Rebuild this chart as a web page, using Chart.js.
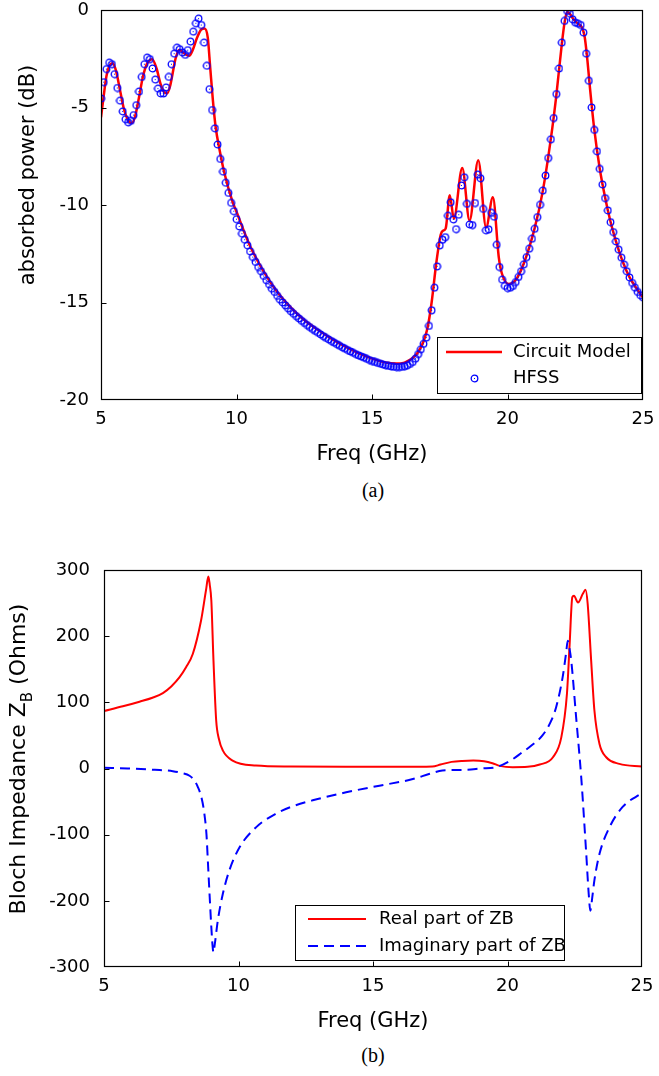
<!DOCTYPE html>
<html>
<head>
<meta charset="utf-8">
<title>Absorbed power and Bloch impedance</title>
<script src="https://cdn.jsdelivr.net/npm/chart.js@4.4.1/dist/chart.umd.min.js"></script>
<style>
  body { margin: 0; background: #fff; }
  #page { position: relative; width: 659px; height: 1076px; overflow: hidden; }
  canvas { position: absolute; left: 0; }
  #absorbChart { top: 0; }
  #blochChart { top: 540px; }
  .caption { position: absolute; left: 323px; width: 100px; text-align: center;
             font: 20px "Liberation Serif", "Times New Roman", serif; color: #000; }
</style>
</head>
<body>
<div id="page">
  <canvas id="absorbChart" width="659" height="470"></canvas>
  <div class="caption" style="top:479px">(a)</div>
  <canvas id="blochChart" width="659" height="500"></canvas>
  <div class="caption" style="top:1044px">(b)</div>
</div>
<script>
// ---- (a) absorbed power ----
const freqTicks = [5, 10, 15, 20, 25];
const dbTicks = [0, -5, -10, -15, -20];

// circuit model curve (GHz, dB)
const modelFreq = [5.0, 5.1, 5.2, 5.3, 5.43, 5.55, 5.7, 5.85, 6.0, 6.13, 6.25, 6.4, 6.55, 6.7, 6.89,
  7.05, 7.2, 7.32, 7.44, 7.55, 7.65, 7.75, 7.88, 8.05, 8.25, 8.4, 8.55, 8.7, 8.82, 8.94,
  9.03, 9.13, 9.23, 9.38, 9.56, 9.84, 10.0, 10.5, 11.0, 11.5, 12.0, 12.5, 13.0, 13.5, 14.0,
  14.5, 15.0, 15.5, 15.9, 16.2, 16.5, 16.7, 16.9, 17.05, 17.2, 17.37, 17.54, 17.65, 17.72, 17.87,
  18.02, 18.33, 18.6, 18.92, 19.21, 19.46, 19.68, 19.79, 20.04, 20.3, 20.6, 21.0, 21.3, 21.6, 21.8,
  22.0, 22.1, 22.2, 22.3, 22.45, 22.6, 22.75, 22.85, 22.95, 23.05, 23.2, 23.4, 23.6, 23.8, 24.0,
  24.25, 24.5, 24.75, 25.0];
const modelDb = [-5.5, -4.4, -3.4, -2.9, -2.73, -3.1, -4.1, -5.1, -5.65, -5.8, -5.5, -4.5, -3.4, -2.75, -2.52,
  -3.0, -3.8, -4.2, -4.28, -3.9, -3.2, -2.5, -2.05, -2.2, -2.35, -2.0, -1.4, -1.0, -0.95, -1.42,
  -2.95, -4.65, -6.0, -7.2, -8.4, -9.77, -10.35, -12.1, -13.4, -14.45, -15.25, -15.9, -16.4, -16.85, -17.25,
  -17.6, -17.88, -18.08, -18.13, -18.08, -17.85, -17.55, -17.0, -16.3, -15.0, -13.0, -11.5, -11.3, -11.2, -9.5,
  -10.7, -8.1, -10.8, -7.7, -11.15, -9.6, -12.7, -13.5, -14.05, -13.85, -13.0, -11.2, -9.3, -6.6, -4.4,
  -1.8, -0.7, -0.1, -0.2, -0.5, -0.7, -0.9, -1.4, -2.6, -4.1, -6.1, -8.1, -9.6, -10.85, -11.85,
  -12.9, -13.7, -14.25, -14.75];

// HFSS sweep, 5 to 25 GHz in 0.1 GHz steps
const hfssStart = 5.0;
const hfssStep = 0.1;
const hfssDb = [
  -4.54, -3.7, -3.03, -2.7, -2.78, -3.29, -4.0, -4.65, -5.2, -5.6,
  -5.76, -5.68, -5.39, -4.88, -4.18, -3.43, -2.78, -2.44, -2.52, -3.0,
  -3.57, -4.03, -4.28, -4.28, -3.97, -3.43, -2.78, -2.24, -1.93, -2.01,
  -2.18, -2.3, -2.06, -1.62, -1.11, -0.68, -0.44, -0.77, -1.67, -2.86,
  -4.06, -5.13, -6.07, -6.9, -7.64, -8.29, -8.86, -9.38, -9.89, -10.32,
  -10.73, -11.1, -11.47, -11.78, -12.07, -12.38, -12.67, -12.92, -13.18, -13.4,
  -13.64, -13.86, -14.07, -14.29, -14.46, -14.66, -14.85, -15.0, -15.15, -15.3,
  -15.45, -15.58, -15.7, -15.82, -15.94, -16.05, -16.16, -16.26, -16.36, -16.46,
  -16.55, -16.64, -16.73, -16.82, -16.9, -16.98, -17.06, -17.14, -17.22, -17.3,
  -17.37, -17.44, -17.51, -17.58, -17.65, -17.71, -17.77, -17.83, -17.89, -17.95,
  -18.0, -18.05, -18.1, -18.14, -18.18, -18.22, -18.25, -18.28, -18.3, -18.31,
  -18.31, -18.3, -18.27, -18.22, -18.15, -18.05, -17.88, -17.65, -17.4, -17.12,
  -16.8, -16.2, -15.4, -14.24, -13.15, -12.07, -11.78, -11.65, -10.55, -9.86,
  -10.74, -11.24, -10.5, -9.0, -8.58, -9.94, -11.0, -11.03, -9.9, -8.44,
  -8.63, -10.2, -11.3, -11.25, -10.4, -10.6, -12.04, -13.18, -13.83, -14.15,
  -14.26, -14.24, -14.15, -13.95, -13.69, -13.4, -13.04, -12.67, -12.24, -11.73,
  -11.22, -10.62, -9.99, -9.26, -8.49, -7.59, -6.63, -5.54, -4.31, -3.0,
  -1.67, -0.56, -0.05, -0.19, -0.48, -0.65, -0.7, -0.77, -1.16, -2.24,
  -3.63, -5.0, -6.15, -7.25, -8.15, -8.95, -9.65, -10.28, -10.88, -11.39,
  -11.87, -12.29, -12.7, -13.06, -13.4, -13.72, -14.0, -14.24, -14.46, -14.63,
  -14.75];

// ---- (b) Bloch impedance ----
const ohmTicks = [300, 200, 100, 0, -100, -200, -300];

const reFreq = [5.0, 5.7, 6.32, 6.8, 7.19, 7.5, 7.81, 8.05, 8.3, 8.61, 8.79, 8.88, 8.93, 8.99, 9.07,
  9.17, 9.27, 9.42, 9.78, 10.65, 11.95, 13.97, 15.99, 17.21, 17.51, 17.92, 18.32, 18.73, 19.13, 19.44,
  19.71, 20.19, 20.75, 21.2, 21.69, 22.0, 22.21, 22.31, 22.41, 22.47, 22.62, 22.8, 22.9, 22.98, 23.11,
  23.23, 23.42, 23.67, 24.16, 25.0];
const reZ = [87, 94, 101, 107, 114, 124, 138, 153, 173, 224, 269, 290, 278, 254, 163,
  73, 45, 27, 12, 4.5, 3, 2.5, 2.5, 3, 6, 10, 11.5, 12, 11, 8,
  4, 2, 2.5, 6, 17, 47, 113, 188, 259, 261, 251, 264, 270, 249, 163,
  88, 37, 17, 7, 3];

const imFreq = [5.0, 5.88, 6.89, 7.56, 7.9, 8.18, 8.36, 8.49, 8.63, 8.73, 8.81, 8.86, 8.93, 8.99, 9.04,
  9.07, 9.12, 9.23, 9.42, 9.66, 10.04, 10.65, 11.4, 11.95, 12.76, 14.0, 15.24, 16.48, 17.11, 17.58,
  18.46, 19.03, 19.57, 20.19, 20.5, 20.9, 21.3, 21.6, 21.81, 22.05, 22.18, 22.24, 22.31, 22.37, 22.55,
  22.74, 22.92, 23.02, 23.08, 23.15, 23.23, 23.42, 23.79, 24.28, 25.0];
const imZ = [1, 0, -2, -4, -7, -11, -18, -28, -45, -68, -100, -139, -195, -240, -270,
  -278, -265, -230, -189, -154, -119, -89, -68, -58, -48, -36, -26, -16, -8, -3,
  -2, 0, 2, 14, 23, 35, 50, 70, 93, 138, 175, 193, 180, 163, 78,
  -13, -124, -190, -215, -195, -169, -129, -89, -58, -37];

const FONT = 'DejaVu Sans';

function pairs(xs, ys) {
  return xs.map((x, i) => ({ x: x, y: ys[i] }));
}

// small open circle with a centre dot, used for the HFSS samples
function ringMarker() {
  const c = document.createElement('canvas');
  c.width = 9; c.height = 9;
  const g = c.getContext('2d');
  g.strokeStyle = '#0000ff';
  g.lineWidth = 1.3;
  g.beginPath();
  g.arc(4.5, 4.5, 3.3, 0, Math.PI * 2);
  g.stroke();
  g.fillStyle = '#0000ff';
  g.fillRect(4, 4, 1, 1);
  return c;
}
const marker = ringMarker();

// box frame, inward tick marks, axis titles and boxed legend
function makeFrame(cfg) {
  return {
    id: 'frame',
    afterDraw(chart) {
      const ctx = chart.ctx;
      const a = chart.chartArea;
      const xs = chart.scales.x, ys = chart.scales.y;
      const L = Math.round(a.left) + 0.5, R = Math.round(a.right) - 0.5;
      const T = Math.round(a.top) + 0.5, B = Math.round(a.bottom) - 0.5;
      ctx.save();
      ctx.strokeStyle = '#000';
      ctx.lineWidth = 1.2;
      ctx.strokeRect(L, T, R - L, B - T);

      ctx.lineWidth = 1;
      ctx.beginPath();
      xs.ticks.forEach(t => {
        const px = Math.round(xs.getPixelForValue(t.value)) + 0.5;
        if (px <= L + 1 || px >= R - 1) return;
        ctx.moveTo(px, B); ctx.lineTo(px, B - 5);
      });
      ys.ticks.forEach(t => {
        const py = Math.round(ys.getPixelForValue(t.value)) + 0.5;
        if (py <= T + 1 || py >= B - 1) return;
        ctx.moveTo(L, py); ctx.lineTo(L + 5, py);
      });
      ctx.stroke();

      // x title
      ctx.fillStyle = '#000';
      ctx.font = '21px "' + FONT + '"';
      ctx.textAlign = 'center';
      ctx.textBaseline = 'alphabetic';
      ctx.fillText(cfg.xTitle, (a.left + a.right) / 2, a.bottom + cfg.xTitleGap);

      // y title, rotated, with optional subscript pieces
      ctx.save();
      ctx.translate(cfg.yTitleX, cfg.yTitleY);
      ctx.rotate(-Math.PI / 2);
      ctx.textAlign = 'left';
      ctx.textBaseline = 'alphabetic';
      ctx.fillStyle = '#000';
      let total = 0;
      cfg.yTitle.forEach(p => {
        ctx.font = p.size + 'px "' + FONT + '"';
        total += ctx.measureText(p.text).width;
      });
      let cx = -total / 2;
      cfg.yTitle.forEach(p => {
        ctx.font = p.size + 'px "' + FONT + '"';
        ctx.fillText(p.text, cx, p.shift ? p.shift : 0);
        cx += ctx.measureText(p.text).width;
      });
      ctx.restore();

      // legend
      const lg = cfg.legend;
      ctx.fillStyle = '#fff';
      ctx.fillRect(lg.x, lg.y, lg.w, lg.h);
      ctx.strokeStyle = '#000';
      ctx.lineWidth = 1;
      ctx.strokeRect(lg.x + 0.5, lg.y + 0.5, lg.w, lg.h);
      lg.rows.forEach(r => {
        const ds = chart.data.datasets[r.dataset];
        if (ds.showLine) {
          ctx.save();
          ctx.strokeStyle = ds.borderColor;
          ctx.lineWidth = ds.borderWidth;
          ctx.setLineDash(ds.borderDash || []);
          ctx.beginPath();
          ctx.moveTo(lg.x0, r.y); ctx.lineTo(lg.x1, r.y);
          ctx.stroke();
          ctx.restore();
        } else {
          const mx = Math.round((lg.x0 + lg.x1) / 2), my = Math.round(r.y);
          ctx.drawImage(ds.pointStyle, mx - 4, my - 4);
        }
        ctx.fillStyle = '#000';
        ctx.font = '18px "' + FONT + '"';
        ctx.textAlign = 'left';
        ctx.textBaseline = 'middle';
        ctx.fillText(ds.label, lg.textX, r.y);
      });
      ctx.restore();
    }
  };
}

function axisX(height) {
  return {
    type: 'linear', min: 5, max: 25,
    afterBuildTicks: s => { s.ticks = freqTicks.map(v => ({ value: v })); },
    grid: { display: false, drawTicks: false },
    border: { display: false },
    ticks: { font: { family: FONT, size: 18 }, color: '#000', padding: 9, maxRotation: 0, autoSkip: false },
    afterFit: s => { s.height = height; s.paddingLeft = 0; s.paddingRight = 0; }
  };
}

function axisY(min, max, ticks, width, pad) {
  return {
    type: 'linear', min: min, max: max,
    afterBuildTicks: s => { s.ticks = ticks.map(v => ({ value: v })); },
    grid: { display: false, drawTicks: false },
    border: { display: false },
    ticks: { font: { family: FONT, size: 18 }, color: '#000', padding: pad, autoSkip: false },
    afterFit: s => { s.width = width; s.paddingTop = 0; s.paddingBottom = 0; }
  };
}

new Chart(document.getElementById('absorbChart'), {
  type: 'scatter',
  data: {
    datasets: [
      {
        label: 'Circuit Model',
        data: pairs(modelFreq, modelDb),
        showLine: true,
        borderColor: '#ff0000',
        borderWidth: 2.5,
        pointRadius: 0,
        cubicInterpolationMode: 'monotone',
        order: 1
      },
      {
        label: 'HFSS',
        data: hfssDb.map((v, i) => ({ x: hfssStart + i * hfssStep, y: v })),
        showLine: false,
        pointStyle: marker,
        pointRadius: 4,
        order: 0
      }
    ]
  },
  options: {
    responsive: false,
    animation: false,
    events: [],
    layout: { padding: { top: 10, right: 16, left: 0, bottom: 0 } },
    scales: { x: axisX(70), y: axisY(-20, 0, dbTicks, 101, 12) },
    plugins: { legend: { display: false }, tooltip: { enabled: false } }
  },
  plugins: [makeFrame({
    xTitle: 'Freq (GHz)', xTitleGap: 60,
    yTitle: [{ text: 'absorbed power (dB)', size: 21 }],
    yTitleX: 34, yTitleY: 175,
    legend: {
      x: 437, y: 337, w: 204, h: 56, x0: 446, x1: 502, textX: 513,
      rows: [{ dataset: 0, y: 352 }, { dataset: 1, y: 378 }]
    }
  })]
});

new Chart(document.getElementById('blochChart'), {
  type: 'scatter',
  data: {
    datasets: [
      {
        label: 'Real part of ZB',
        data: pairs(reFreq, reZ),
        showLine: true,
        borderColor: '#ff0000',
        borderWidth: 2,
        pointRadius: 0,
        cubicInterpolationMode: 'monotone',
        order: 1
      },
      {
        label: 'Imaginary part of ZB',
        data: pairs(imFreq, imZ),
        showLine: true,
        borderColor: '#0000ff',
        borderWidth: 2,
        borderDash: [10, 6],
        pointRadius: 0,
        cubicInterpolationMode: 'monotone',
        order: 0
      }
    ]
  },
  options: {
    responsive: false,
    animation: false,
    events: [],
    layout: { padding: { top: 30, right: 17, left: 0, bottom: 0 } },
    scales: { x: axisX(73), y: axisY(-300, 300, ohmTicks, 104, 14) },
    plugins: { legend: { display: false }, tooltip: { enabled: false } }
  },
  plugins: [makeFrame({
    xTitle: 'Freq (GHz)', xTitleGap: 60,
    yTitle: [
      { text: 'Bloch Impedance Z', size: 22 },
      { text: 'B', size: 15, shift: 7 },
      { text: ' (Ohms)', size: 22 }
    ],
    yTitleX: 25, yTitleY: 219,
    legend: {
      x: 295, y: 365, w: 269, h: 55, x0: 308, x1: 366, textX: 379,
      rows: [{ dataset: 0, y: 379 }, { dataset: 1, y: 406 }]
    }
  })]
});
</script>
</body>
</html>
